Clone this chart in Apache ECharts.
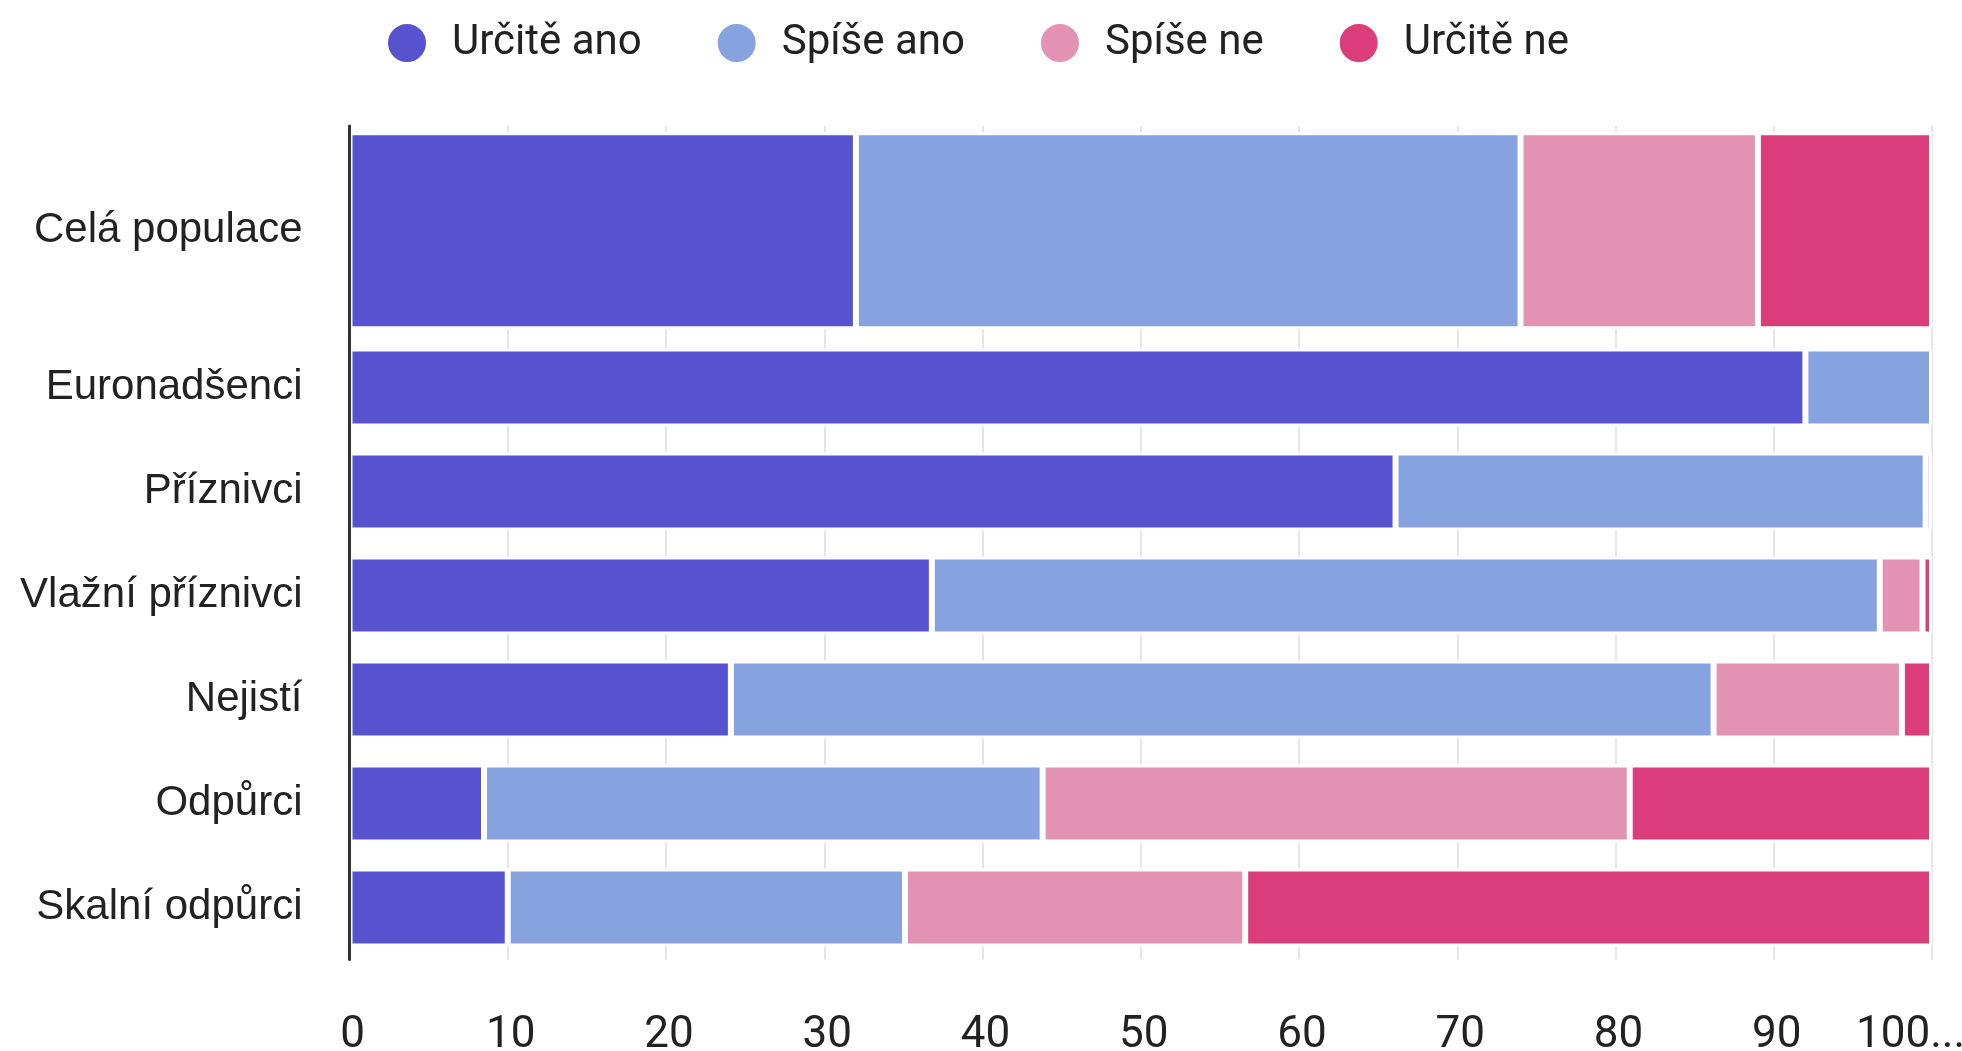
<!DOCTYPE html>
<html>
<head>
<meta charset="utf-8">
<script src="https://cdn.jsdelivr.net/npm/echarts@6/dist/echarts.min.js"></script>
<style>
  html, body { margin: 0; padding: 0; background: #fff; }
  #chart { width: 1962px; height: 1051px; }
</style>
</head>
<body>
<div id="chart"></div>
<script>
// kategorie (první má vlastní, vyšší pruh)
const categories = ['Celá populace', 'Euronadšenci', 'Příznivci', 'Vlažní příznivci', 'Nejistí', 'Odpůrci', 'Skalní odpůrci'];
const seriesNames = ['Určitě ano', 'Spíše ano', 'Spíše ne', 'Určitě ne'];
const colors = ['#5753ce', '#86a2df', '#e293b4', '#db3d7a'];

// hodnoty v %
const urciteAno = [32, 92, 66.1, 36.8, 24.1, 8.5, 10];
const spiseAno = [42, 8, 33.5, 59.9, 62.1, 35.3, 25.1];
const spiseNe = [15, 0, 0.4, 2.7, 11.9, 37.1, 21.5];
const urciteNe = [11, 0, 0, 0.6, 1.9, 19.1, 43.4];

const xTickLabels = ['0', '10', '20', '30', '40', '50', '60', '70', '80', '90', '100...'];

const values = [urciteAno, spiseAno, spiseNe, urciteNe];
const clean = arr => arr.map(v => (v === 0 ? '-' : v));

const chart = echarts.init(document.getElementById('chart'));

const axisLineStyle = { lineStyle: { color: '#333', width: 3 } };
const gridLine = { show: true, lineStyle: { color: '#e6e6e6', width: 2 } };
const catLabel = { fontSize: 42, color: '#222', fontFamily: 'Liberation Sans', margin: 47 };

let series = [];
values.forEach((vals, i) => {
  // horní mřížka - celá populace
  series.push({
    name: seriesNames[i],
    type: 'bar',
    stack: 'top',
    xAxisIndex: 0,
    yAxisIndex: 0,
    barWidth: 197,
    itemStyle: { color: colors[i], borderColor: '#fff', borderWidth: 3 },
    data: clean(vals.slice(0, 1))
  });
  // spodní mřížka - skupiny
  series.push({
    name: seriesNames[i],
    type: 'bar',
    stack: 'bottom',
    xAxisIndex: 1,
    yAxisIndex: 1,
    barWidth: 78,
    itemStyle: { color: colors[i], borderColor: '#fff', borderWidth: 3 },
    data: clean(vals.slice(1))
  });
});

const option = {
  animation: false,
  color: colors,
  legend: {
    data: seriesNames,
    left: 381,
    top: 17,
    icon: 'circle',
    itemWidth: 40,
    itemHeight: 40,
    itemGap: 74,
    textStyle: { fontSize: 42, color: '#222', fontFamily: 'Roboto', padding: [0, 0, 0, 20] }
  },
  grid: [
    { left: 349.5, right: 30, top: 126, height: 209.5, outerBoundsMode: 'none' },
    { left: 349.5, right: 30, top: 335.5, height: 624, outerBoundsMode: 'none' }
  ],
  xAxis: [
    {
      gridIndex: 0, type: 'value', min: 0, max: 100, interval: 10,
      axisLabel: { show: false }, axisLine: { show: false }, axisTick: { show: false },
      splitLine: gridLine
    },
    {
      gridIndex: 1, type: 'value', min: 0, max: 100, interval: 10,
      axisLine: { show: false }, axisTick: { show: false },
      splitLine: gridLine,
      axisLabel: {
        fontSize: 44, color: '#222', fontFamily: 'Roboto', margin: 54,
        padding: [0, 0, 0, 6],
        formatter: function (v) {
          const i = Math.round(v / 10);
          return i === 10 ? '{last|' + xTickLabels[i] + '}' : xTickLabels[i];
        },
        rich: {
          last: { fontSize: 44, color: '#222', fontFamily: 'Roboto', padding: [0, 49, 0, 0] }
        }
      }
    }
  ],
  yAxis: [
    {
      gridIndex: 0, type: 'category', inverse: true, data: categories.slice(0, 1), z: 10,
      axisLine: axisLineStyle, axisTick: { show: false },
      axisLabel: Object.assign({}, catLabel, { padding: [6, 0, 0, 0] })
    },
    {
      gridIndex: 1, type: 'category', inverse: true, data: categories.slice(1), z: 10,
      axisLine: axisLineStyle, axisTick: { show: false },
      axisLabel: Object.assign({}, catLabel, { padding: [6, 0, 0, 0] })
    }
  ],
  series: series
};

chart.setOption(option);
</script>
</body>
</html>
